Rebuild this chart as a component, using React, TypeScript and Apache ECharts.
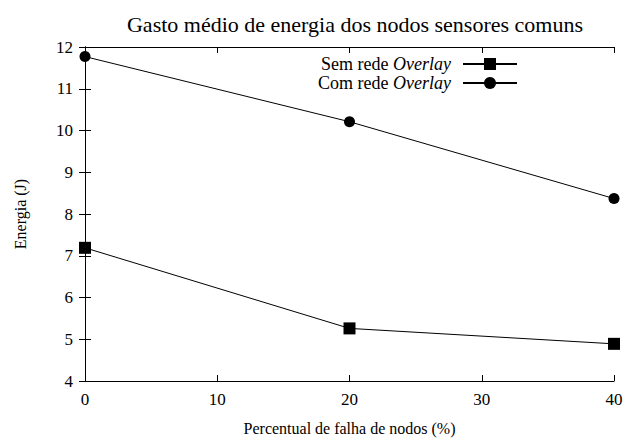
import React, { useEffect, useRef } from "react";
import * as echarts from "echarts";

const xValues = [0, 20, 40];
const semRede = [7.19, 5.26, 4.89];
const comRede = [11.77, 10.21, 8.37];
const seriesNames = ["Sem rede Overlay", "Com rede Overlay"];

const FONT = "'Liberation Serif', 'Times New Roman', serif";

export default function App() {
  const ref = useRef<HTMLDivElement>(null);
  useEffect(() => {
    if (!ref.current) return;
    const chart = echarts.init(ref.current, null, { renderer: "svg" });
    const axisCommon = {
      type: "value" as const,
      axisLine: { show: true, lineStyle: { color: "#000", width: 1 } },
      axisTick: { show: true, inside: true, length: 6, lineStyle: { color: "#000" } },
      splitLine: { show: false },
    };
    chart.setOption({
      animation: false,
      backgroundColor: "#fff",
      title: {
        text: "Gasto médio de energia dos nodos sensores comuns",
        left: 350,
        textAlign: "center",
        top: 8,
        textStyle: { fontFamily: FONT, fontSize: 22, fontWeight: "normal", color: "#000" },
      },
      legend: {
        right: 113,
        top: 50,
        orient: "vertical",
        align: "right",
        itemWidth: 54,
        itemHeight: 15,
        itemGap: 1,
        data: seriesNames,
        formatter: (name: string) => `{n|${name.replace(" Overlay", " ")}}{i|Overlay}`,
        textStyle: {
          fontFamily: FONT,
          fontSize: 18,
          color: "#000",
          rich: {
            n: { fontFamily: FONT, fontSize: 18, color: "#000" },
            i: { fontFamily: FONT, fontSize: 18, fontStyle: "italic", color: "#000", padding: [0, 7, 0, 0] },
          },
        },
      },
      grid: { left: 85, right: 22, top: 47, bottom: 53 },
      xAxis: [
        {
          ...axisCommon,
          position: "bottom",
          min: 0,
          max: 40,
          interval: 10,
          name: "Percentual de falha de nodos (%)",
          nameLocation: "middle",
          nameGap: 39,
          nameTextStyle: { fontFamily: FONT, fontSize: 16, color: "#000" },
          axisLabel: { fontFamily: FONT, fontSize: 17, color: "#000", margin: 10 },
        },
        {
          ...axisCommon,
          position: "top",
          min: 0,
          max: 40,
          interval: 10,
          axisLabel: { show: false },
        },
      ],
      yAxis: [
        {
          ...axisCommon,
          position: "left",
          min: 4,
          max: 12,
          interval: 1,
          name: "Energia (J)",
          nameLocation: "middle",
          nameGap: 57,
          nameRotate: 90,
          nameTextStyle: { fontFamily: FONT, fontSize: 16, color: "#000" },
          axisLabel: { fontFamily: FONT, fontSize: 17, color: "#000", margin: 12 },
        },
        {
          ...axisCommon,
          position: "right",
          min: 4,
          max: 12,
          interval: 1,
          axisLabel: { show: false },
        },
      ],
      series: [
        {
          name: seriesNames[0],
          type: "line",
          data: xValues.map((x, i) => [x, semRede[i]]),
          symbol: "rect",
          symbolSize: 12,
          lineStyle: { color: "#000", width: 1 },
          itemStyle: { color: "#000" },
          clip: false,
          z: 3,
        },
        {
          name: seriesNames[1],
          type: "line",
          data: xValues.map((x, i) => [x, comRede[i]]),
          symbol: "circle",
          symbolSize: 11,
          lineStyle: { color: "#000", width: 1 },
          itemStyle: { color: "#000" },
          clip: false,
          z: 3,
        },
      ],
    });
    return () => chart.dispose();
  }, []);
  return <div ref={ref} style={{ width: 636, height: 441, position: "absolute", left: 0, top: 0 }} />;
}
